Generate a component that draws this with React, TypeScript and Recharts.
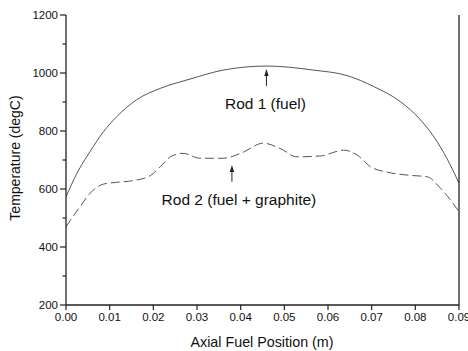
import React from "react";
import { LineChart, Line, XAxis, YAxis, ReferenceLine, Label } from "recharts";

const rod1X = [0, 0.0025, 0.0055, 0.0086, 0.0116, 0.0161, 0.0216, 0.0284, 0.036, 0.046, 0.0567, 0.0644, 0.0705, 0.0766, 0.0812, 0.085, 0.088, 0.09];
const rod1T = [573, 654, 729, 798, 849, 907, 947, 979, 1010, 1024, 1010, 991, 953, 901, 838, 763, 683, 620];

const rod2X = [0, 0.0032, 0.0055, 0.0086, 0.0116, 0.0154, 0.0193, 0.0216, 0.0239, 0.0268, 0.0307, 0.036, 0.04, 0.0452, 0.049, 0.0529, 0.0583, 0.0636, 0.0667, 0.0697, 0.0736, 0.0781, 0.0827, 0.0858, 0.09];
const rod2T = [470, 539, 585, 617, 623, 629, 646, 677, 711, 723, 706, 706, 723, 758, 740, 711, 714, 734, 717, 677, 658, 648, 642, 602, 522];

const xTicks = [0, 0.01, 0.02, 0.03, 0.04, 0.05, 0.06, 0.07, 0.08, 0.09];
const yTicks = [200, 300, 400, 500, 600, 700, 800, 900, 1000, 1100, 1200];
const yLabeled = [200, 400, 600, 800, 1000, 1200];

const rod1 = rod1X.map((x, i) => ({ x, t: rod1T[i] }));
const rod2 = rod2X.map((x, i) => ({ x, t: rod2T[i] }));

const INK = "#222";
const FONT = "Liberation Sans, Arial, sans-serif";

function LeftTick(props: any) {
  const { x, y, payload } = props;
  const major = yLabeled.includes(payload.value);
  return (
    <g>
      <line x1={x - (major ? 6 : 3.5)} x2={x} y1={y} y2={y} stroke={INK} strokeWidth={1.2} />
      {major && (
        <text x={x - 8} y={y} textAnchor="end" dominantBaseline="central" fontSize={11.5} fill="#111" fontFamily={FONT}>
          {payload.value}
        </text>
      )}
    </g>
  );
}

function RightTick(props: any) {
  const { x, y, payload } = props;
  const major = yLabeled.includes(payload.value);
  return <line x1={x} x2={x + (major ? 5 : 4)} y1={y} y2={y} stroke={INK} strokeWidth={1.2} />;
}

function Arrow(text: string, tx: number, ty: number) {
  return (props: any) => {
    const { x1, y1, x2, y2 } = props;
    return (
      <g>
        <line x1={x1} y1={y1} x2={x2} y2={y2 + 5} stroke={INK} strokeWidth={1} />
        <polygon points={`${x2},${y2} ${x2 - 2.2},${y2 + 7} ${x2 + 2.2},${y2 + 7}`} fill={INK} />
        <text x={x1 + tx} y={y1 + ty} textAnchor="middle" fontSize={15.5} fill="#111" fontFamily={FONT}>
          {text}
        </text>
      </g>
    );
  };
}

export default function App() {
  return (
    <div style={{ position: "absolute", left: 0, top: 0, background: "#fff" }}>
      <LineChart width={468} height={351} margin={{ top: 15, right: 0, bottom: 0, left: 0 }}>
        <XAxis
          dataKey="x"
          type="number"
          domain={[0, 0.09]}
          ticks={xTicks}
          allowDataOverflow
          height={46}
          tickSize={5}
          tickMargin={3}
          tickFormatter={(v: number) => v.toFixed(2)}
          tick={{ fontSize: 11.5, fill: "#111", fontFamily: FONT }}
          axisLine={{ stroke: INK, strokeWidth: 1.3 }}
          tickLine={{ stroke: INK, strokeWidth: 1.2 }}
          interval={0}
        >
          <Label
            content={() => (
              <text x={262} y={347} textAnchor="middle" fontSize={14.3} fill="#111" fontFamily={FONT}>
                Axial Fuel Position (m)
              </text>
            )}
          />
        </XAxis>
        <XAxis
          xAxisId="top"
          orientation="top"
          type="number"
          domain={[0, 0.09]}
          ticks={xTicks}
          height={0}
          tickSize={5}
          tickFormatter={() => ""}
          axisLine={{ stroke: INK, strokeWidth: 1.3 }}
          tickLine={{ stroke: INK, strokeWidth: 1.2 }}
          interval={0}
        />
        <YAxis
          type="number"
          domain={[200, 1200]}
          ticks={yTicks}
          width={66}
          tickSize={0}
          tickMargin={0}
          tickLine={false}
          tick={<LeftTick />}
          axisLine={{ stroke: INK, strokeWidth: 1.3 }}
          interval={0}
        >
          <Label
            content={() => (
              <text x={20} y={158} transform="rotate(-90 20 158)" textAnchor="middle" fontSize={14} fill="#111" fontFamily={FONT}>
                Temperature (degC)
              </text>
            )}
          />
        </YAxis>
        <YAxis
          yAxisId="right"
          orientation="right"
          type="number"
          domain={[200, 1200]}
          ticks={yTicks}
          width={9}
          tickSize={0}
          tickMargin={0}
          tickLine={false}
          tick={<RightTick />}
          axisLine={{ stroke: INK, strokeWidth: 1.3 }}
          interval={0}
        />
        <Line data={rod1} dataKey="t" type="monotone" stroke="#555" strokeWidth={1} dot={false} isAnimationActive={false} />
        <Line data={rod2} dataKey="t" type="monotone" stroke="#555" strokeWidth={1} strokeDasharray="9 4" dot={false} isAnimationActive={false} />
        <ReferenceLine
          segment={[{ x: 0.0459, y: 955 }, { x: 0.0459, y: 1014 }]}
          shape={Arrow("Rod 1 (fuel)", -1, 23)}
        />
        <ReferenceLine
          segment={[{ x: 0.038, y: 625 }, { x: 0.038, y: 683 }]}
          shape={Arrow("Rod 2 (fuel + graphite)", 7, 23)}
        />
      </LineChart>
    </div>
  );
}
